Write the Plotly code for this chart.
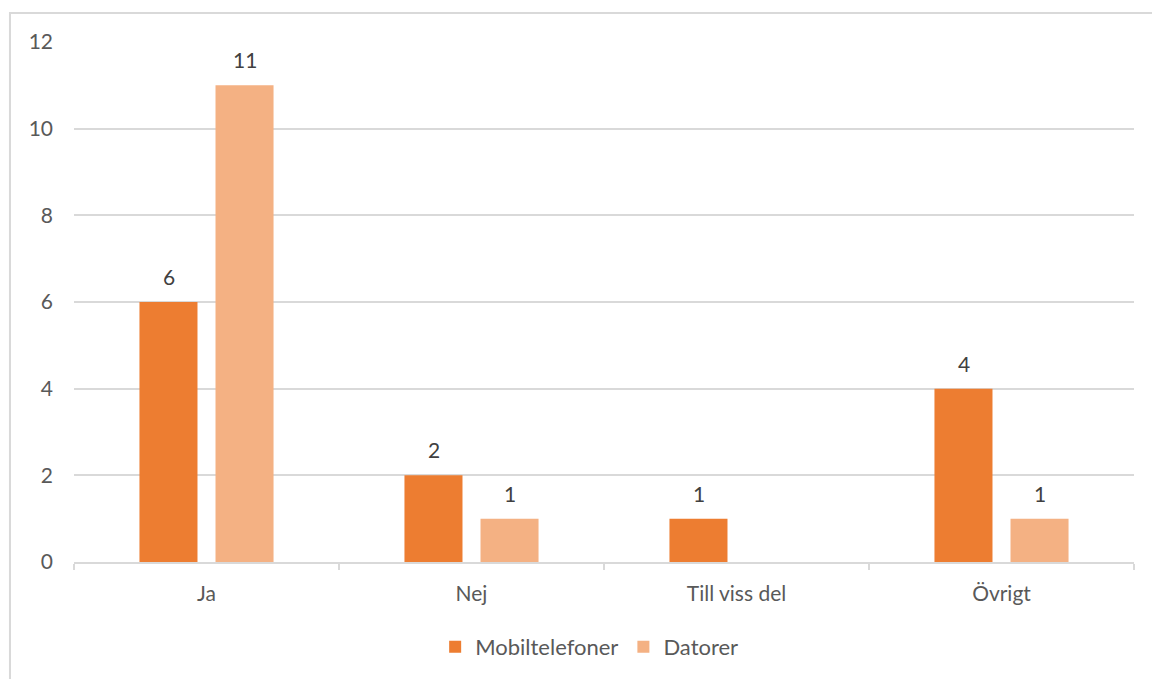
import plotly.graph_objects as go

categories = ["Ja", "Nej", "Till viss del", "Övrigt"]
mobiltelefoner = [6, 2, 1, 4]
datorer = [11, 1, None, 1]

FONT = "Lato, Open Sans, sans-serif"
GRID = "#d9d9d9"
TEXT = "#595959"
LABEL = "#404040"
SERIES = [("Mobiltelefoner", mobiltelefoner, "#ED7D31", -38),
          ("Datorer", datorer, "#F4B183", 38)]

fig = go.Figure()
annotations = []
for name, values, color, shift in SERIES:
    fig.add_trace(go.Bar(
        name=name, x=categories, y=values,
        marker=dict(color=color, line=dict(width=0)),
        hoverinfo="x+y+name",
    ))
    # value labels sitting above each bar
    for cat, v in zip(categories, values):
        if v is None:
            continue
        annotations.append(dict(
            x=cat, y=v, xref="x", yref="y", text=str(v), showarrow=False,
            xshift=shift, yshift=11, yanchor="bottom",
            font=dict(size=21, color=LABEL, family=FONT),
        ))

fig.update_layout(
    width=1152, height=679,
    margin=dict(l=74, r=18, t=42, b=116),
    paper_bgcolor="white", plot_bgcolor="white",
    barmode="group", bargap=0.426, bargroupgap=0.237,
    font=dict(family=FONT, color=TEXT, size=21),
    showlegend=True,
    legend=dict(orientation="h", x=0.486, xanchor="center", y=-0.161, yanchor="middle",
                font=dict(size=22, color=TEXT), traceorder="normal"),
    xaxis=dict(
        showgrid=False, showline=True, linecolor=GRID, linewidth=1.5,
        ticks="outside", tickson="boundaries", ticklen=6, tickcolor=GRID, tickwidth=1.5,
        ticklabelstandoff=12, tickfont=dict(size=21, color=TEXT),
    ),
    yaxis=dict(
        range=[0, 12], dtick=2, showgrid=True, gridcolor=GRID, gridwidth=1.5,
        zeroline=False, showline=False, ticks="",
        ticklabelstandoff=20, tickfont=dict(size=21, color=TEXT),
    ),
    annotations=annotations,
    shapes=[dict(
        type="rect", xref="paper", yref="paper",
        x0=-0.0604, x1=1.3, y0=-0.5, y1=1.0557,
        line=dict(color=GRID, width=2), fillcolor="rgba(0,0,0,0)", layer="below",
    )],
)

fig.write_html("out.html")
